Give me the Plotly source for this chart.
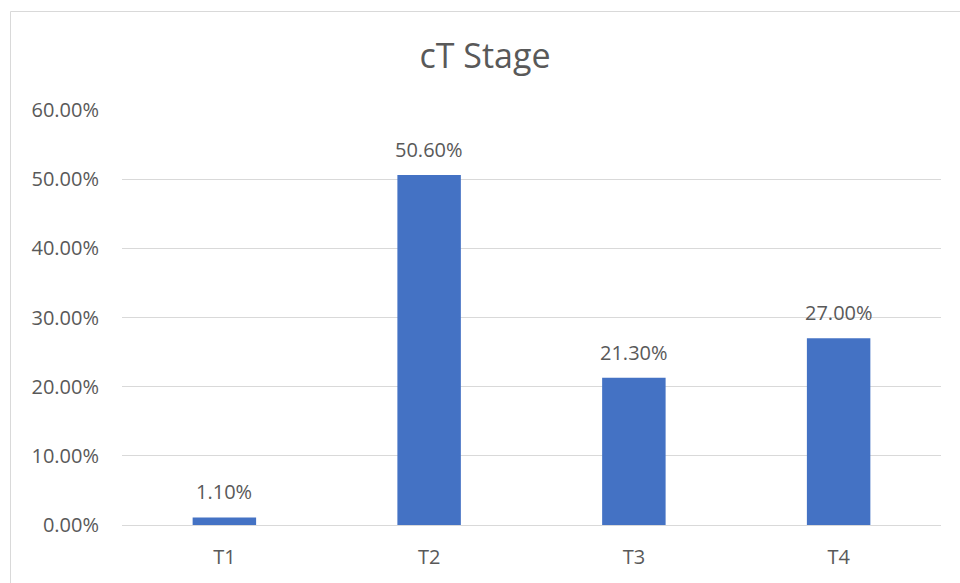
import plotly.graph_objects as go

categories = ["T1", "T2", "T3", "T4"]
values = [1.1, 50.6, 21.3, 27.0]
labels = ["1.10%", "50.60%", "21.30%", "27.00%"]
y_ticks = [0, 10, 20, 30, 40, 50, 60]
y_tick_text = ["0.00%", "10.00%", "20.00%", "30.00%", "40.00%", "50.00%", "60.00%"]

W, H = 960, 583
L, R, T, B = 122, 19, 110, 58
pw, ph = W - L - R, H - T - B

font = "Open Sans, Segoe UI, sans-serif"
grey = "#595959"

fig = go.Figure(go.Bar(
    x=categories, y=values,
    marker=dict(color="#4472C4", line=dict(width=0)),
    width=0.31,
    cliponaxis=False,
))

for c, v, t in zip(categories, values, labels):
    fig.add_annotation(x=c, y=v, text=t, showarrow=False, xanchor="center",
                       yanchor="bottom", yshift=10,
                       font=dict(family=font, size=20, color=grey))

def px_to_paper_x(px):
    return (px - L) / pw

def px_to_paper_y(py):
    return 1 - (py - T) / ph

fig.add_shape(type="rect", xref="paper", yref="paper",
              x0=px_to_paper_x(10.5), x1=px_to_paper_x(975),
              y0=px_to_paper_y(600), y1=px_to_paper_y(11.5),
              line=dict(color="#d9d9d9", width=1), fillcolor="rgba(0,0,0,0)", layer="below")

fig.update_layout(
    width=W, height=H,
    margin=dict(l=L, r=R, t=T, b=B, pad=0),
    paper_bgcolor="white", plot_bgcolor="white",
    title=dict(text="cT Stage", x=px_to_paper_x(485), xref="paper", xanchor="center",
               y=1 - 56 / H, yanchor="middle",
               font=dict(family=font, size=34, color=grey)),
    showlegend=False,
)
fig.update_xaxes(showgrid=False, showline=True, linecolor="#d9d9d9", linewidth=1,
                 tickfont=dict(family=font, size=20, color=grey), ticks="", ticklabelstandoff=14)
fig.update_yaxes(range=[0, 60], tickvals=y_ticks, ticktext=y_tick_text,
                 showgrid=True, gridcolor="#d9d9d9", gridwidth=1, zeroline=False,
                 showline=False, ticks="", ticklabelstandoff=22,
                 tickfont=dict(family=font, size=20, color=grey))

fig.write_html("out.html")
